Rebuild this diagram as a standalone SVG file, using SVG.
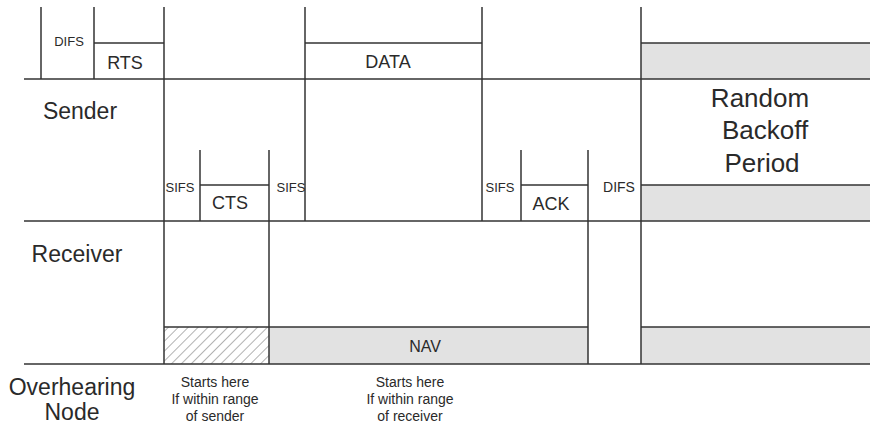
<svg xmlns="http://www.w3.org/2000/svg" width="870" height="427" viewBox="0 0 870 427">
<style>
.ln{stroke:#333;stroke-width:1.5;fill:none}
.g{fill:#e2e2e2}
text{font-family:"Liberation Sans",Arial,sans-serif;fill:#2a2a2a;text-anchor:middle}
.s{font-size:13px}
.m{font-size:18px}
.l{font-size:23px}
.xl{font-size:26px}
.n{font-size:14px}
</style>
<defs>
<pattern id="hatch" width="7" height="7" patternUnits="userSpaceOnUse" patternTransform="rotate(45)">
<rect width="7" height="7" fill="#fff"/>
<line x1="0" y1="0" x2="0" y2="7" stroke="#666" stroke-width="1"/>
</pattern>
</defs>
<rect width="870" height="427" fill="#fff"/>
<g id="fills">
<rect class="g" x="641" y="43" width="229" height="36"/>
<rect class="g" x="641" y="185" width="229" height="36"/>
<rect x="164" y="327" width="105" height="37" fill="url(#hatch)"/>
<rect class="g" x="269" y="327" width="319" height="37"/>
<rect class="g" x="641" y="327" width="229" height="37"/>
</g>
<g id="connectors">
<line class="ln" x1="24" y1="79" x2="870" y2="79"/>
<line class="ln" x1="24" y1="221" x2="870" y2="221"/>
<line class="ln" x1="24" y1="364" x2="870" y2="364"/>
<line class="ln" x1="41" y1="7" x2="41" y2="79"/>
<line class="ln" x1="94" y1="7" x2="94" y2="79"/>
<line class="ln" x1="164" y1="7" x2="164" y2="364"/>
<line class="ln" x1="305" y1="7" x2="305" y2="221"/>
<line class="ln" x1="482" y1="7" x2="482" y2="221"/>
<line class="ln" x1="641" y1="7" x2="641" y2="364"/>
<line class="ln" x1="200" y1="150" x2="200" y2="221"/>
<line class="ln" x1="269" y1="150" x2="269" y2="364"/>
<line class="ln" x1="521" y1="150" x2="521" y2="221"/>
<line class="ln" x1="588" y1="150" x2="588" y2="364"/>
<line class="ln" x1="94" y1="43" x2="164" y2="43"/>
<line class="ln" x1="305" y1="43" x2="482" y2="43"/>
<line class="ln" x1="641" y1="43" x2="870" y2="43"/>
<line class="ln" x1="200" y1="185" x2="269" y2="185"/>
<line class="ln" x1="521" y1="185" x2="588" y2="185"/>
<line class="ln" x1="641" y1="185" x2="870" y2="185"/>
<line class="ln" x1="164" y1="327" x2="588" y2="327"/>
<line class="ln" x1="641" y1="327" x2="870" y2="327"/>
</g>
<g id="labels-sender">
<text class="s" x="69" y="46">DIFS</text>
<text id="rts" class="m" x="125" y="69">RTS</text>
<text id="data" class="m" x="388" y="68">DATA</text>
<text class="l" x="80" y="119">Sender</text>
<text class="xl" x="760" y="107">Random</text>
<text class="xl" x="765" y="139">Backoff</text>
<text class="xl" x="762" y="172">Period</text>
</g>
<g id="labels-receiver">
<text class="s" x="180" y="192">SIFS</text>
<text id="cts" class="m" x="230" y="209">CTS</text>
<text class="s" x="291" y="192">SIFS</text>
<text class="s" x="500" y="192">SIFS</text>
<text id="ack" class="m" x="551" y="210">ACK</text>
<text class="n" x="619" y="192">DIFS</text>
<text class="l" x="77" y="262">Receiver</text>
</g>
<g id="labels-overhearing">
<text id="nav" x="425" y="352" style="font-size:16px">NAV</text>
<text class="l" x="72" y="395">Overhearing</text>
<text class="l" x="72" y="420">Node</text>
<text class="n" x="215" y="387">Starts here</text>
<text class="n" x="215" y="404">If within range</text>
<text class="n" x="215" y="421">of sender</text>
<text class="n" x="410" y="387">Starts here</text>
<text class="n" x="410" y="404">If within range</text>
<text class="n" x="410" y="421">of receiver</text>
</g>
</svg>
